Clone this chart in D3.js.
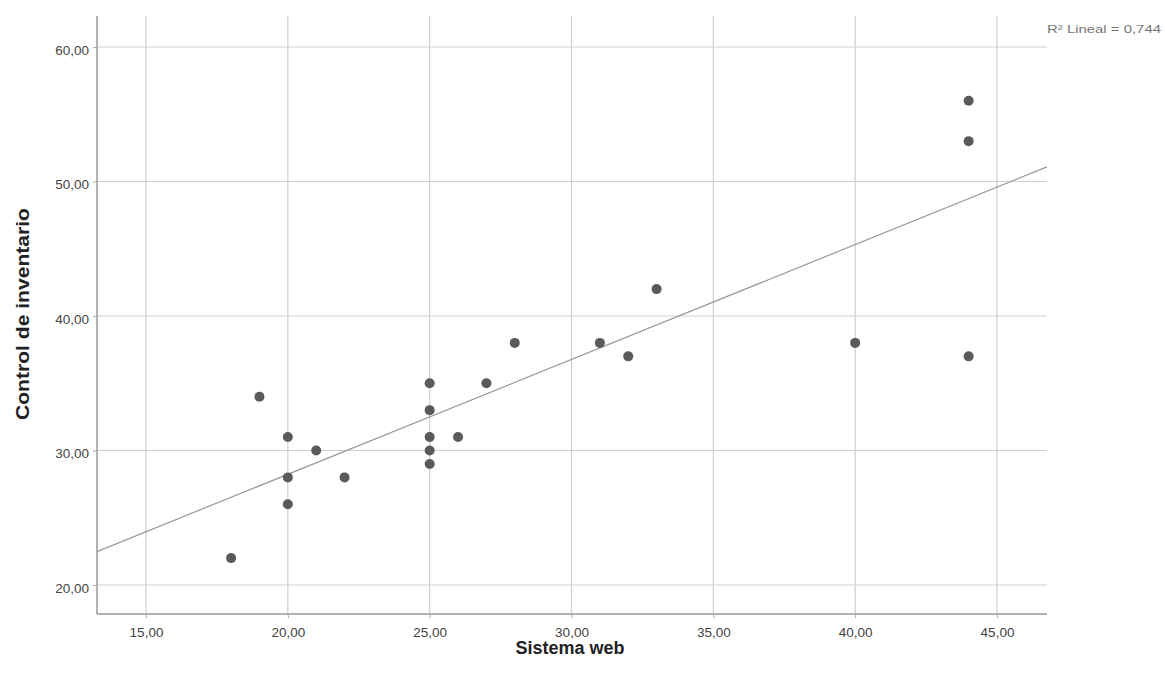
<!DOCTYPE html>
<html><head><meta charset="utf-8">
<script src="https://cdn.jsdelivr.net/npm/d3@7"></script>
<style>body{margin:0;background:#fff;} svg{display:block;}</style>
</head><body>
<svg id="c" width="1165" height="686"></svg>
<script>
const sistemaWeb = [18,19,20,20,20,21,22,25,25,25,25,25,26,27,28,31,32,33,40,44,44,44];
const controlInventario = [22,34,31,28,26,30,28,35,33,31,30,29,31,35,38,38,37,42,38,56,53,37];
const xTicks = [15,20,25,30,35,40,45];
const yTicks = [20,30,40,50,60];
const fitSlope = 0.854, fitIntercept = 11.15;
const r2Label = "R² Lineal = 0,744";

const svg = d3.select("#c");
const L=97, R=1047, T=16, B=614;
const x = d3.scaleLinear().domain([15,45]).range([146,997]);
const y = d3.scaleLinear().domain([20,60]).range([585,47]);
const fmt = d => d.toFixed(2).replace(".",",");
const font = "Liberation Sans, Arial";

// gridlines
svg.append("g").selectAll("line").data(xTicks).join("line")
  .attr("x1",d=>x(d)).attr("x2",d=>x(d)).attr("y1",T).attr("y2",B)
  .attr("stroke","#cfcfcf").attr("stroke-width",1.2);
svg.append("g").selectAll("line").data(yTicks).join("line")
  .attr("x1",L).attr("x2",R).attr("y1",d=>y(d)).attr("y2",d=>y(d))
  .attr("stroke","#cfcfcf").attr("stroke-width",1.2);

// axes
const xAxis = d3.axisBottom(x).tickValues(xTicks).tickFormat(fmt).tickSize(4).tickPadding(9);
const gx = svg.append("g").attr("transform",`translate(0,${B})`).call(xAxis);
gx.select(".domain").attr("stroke","#999").attr("stroke-width",1.5).attr("d",`M${L},0H${R}`);
gx.selectAll(".tick line").attr("stroke","#aaa");
gx.selectAll("text").attr("font-family",font).attr("font-size",13.5).attr("fill","#444");

const yAxis = d3.axisLeft(y).tickValues(yTicks).tickFormat(fmt).tickSize(4).tickPadding(4);
const gy = svg.append("g").attr("transform",`translate(${L},0)`).call(yAxis);
gy.select(".domain").attr("stroke","#999").attr("stroke-width",1.5).attr("d",`M0,${T}V${B}`);
gy.selectAll(".tick line").attr("stroke","#aaa");
gy.selectAll("text").attr("font-family",font).attr("font-size",13.5).attr("fill","#444").attr("dy","0.55em");

// fit line
const xd = [x.invert(L), x.invert(R)];
svg.append("line")
  .attr("x1",x(xd[0])).attr("y1",y(fitIntercept+fitSlope*xd[0]))
  .attr("x2",x(xd[1])).attr("y2",y(fitIntercept+fitSlope*xd[1]))
  .attr("stroke","#999").attr("stroke-width",1.2);

// points
svg.append("g").selectAll("circle").data(sistemaWeb).join("circle")
  .attr("cx",d=>x(d)).attr("cy",(d,i)=>y(controlInventario[i])).attr("r",5)
  .attr("fill","#5a5a5a");

// labels
svg.append("text").attr("x",1047).attr("y",33)
  .attr("textLength",114).attr("lengthAdjust","spacingAndGlyphs")
  .attr("font-family",font).attr("font-size",11).attr("fill","#777").text(r2Label);
svg.append("text").attr("x",570).attr("y",654).attr("text-anchor","middle")
  .attr("font-family",font).attr("font-size",18).attr("font-weight","bold").attr("fill","#222").text("Sistema web");
svg.append("text").attr("transform",`translate(29,314) rotate(-90)`).attr("text-anchor","middle")
  .attr("textLength",212).attr("lengthAdjust","spacingAndGlyphs")
  .attr("font-family",font).attr("font-size",18).attr("font-weight","bold").attr("fill","#222").text("Control de inventario");
</script>
</body></html>
